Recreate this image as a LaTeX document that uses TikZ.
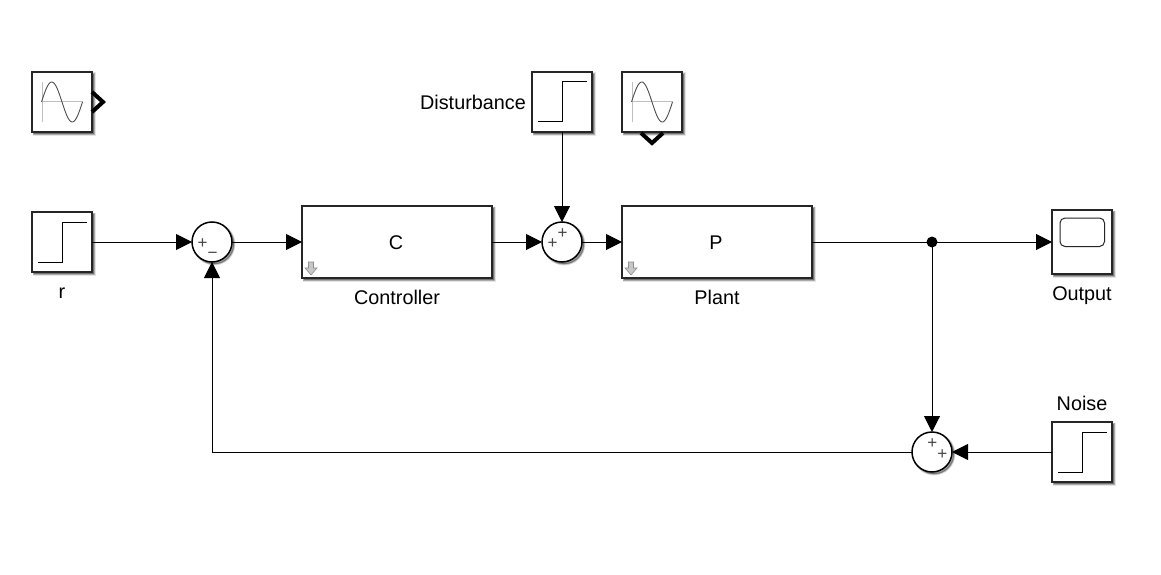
\documentclass[tikz,border=0pt]{standalone}
\usepackage{fontspec}
\setmainfont{Liberation Sans}
\usetikzlibrary{arrows.meta,shadows,calc}
\definecolor{edge}{HTML}{262626}
\tikzset{
  softshadow/.style={
    general shadow={shadow xshift=2pt,shadow yshift=-2pt,fill=black,draw=black,line width=3pt,opacity=.10},
    general shadow={shadow xshift=2pt,shadow yshift=-2pt,fill=black,draw=black,line width=1.5pt,opacity=.25}},
  blockbox/.style={draw=edge,fill=white,line width=1.6pt,inner sep=0pt,outer sep=0pt,softshadow,font=\lab},
  srcbox/.style={blockbox,minimum width=60pt,minimum height=60pt},
  subbox/.style={blockbox,minimum width=190pt,minimum height=72pt},
  scopebox/.style={blockbox,minimum width=60pt,minimum height=64pt},
  sumnode/.style={circle,draw=black,fill=white,line width=1.5pt,minimum size=40pt,inner sep=0pt,outer sep=0pt,softshadow},
  junctiondot/.style={circle,fill=black,minimum size=11pt,inner sep=0pt,outer sep=0pt},
  wire/.style={line width=1pt,draw=black},
  flow/.style={wire,-{Triangle[length=16pt,width=16pt]},shorten >=0pt},
  lbl/.style={font=\lab,text=black,inner sep=0pt},
  signmark/.style={font=\signfont,text=black!72,inner sep=0pt,anchor=base},
  stepline/.style={line width=1pt,draw=black,line join=miter},
  chevron/.style={line width=4pt,draw=black,line join=miter},
  drillicon/.style={draw=black!45,fill=black!22,line width=.6pt}
}
\newcommand{\lab}{\fontsize{19.8}{24}\selectfont}
\newcommand{\signfont}{\fontsize{17}{20}\selectfont}
\newcommand{\stepglyph}[1]{%
  \draw[stepline] ($(#1.north west)+(6,50)$) -- ++(24.5,0) -- ++(0,-40) -- ++(24.5,0);}
\newcommand{\sineglyph}[1]{%
  \begin{scope}[shift={(#1.north west)}]
    \draw[black!25,line width=1pt] (10,10) -- (10,50);
    \draw[black!25,line width=1pt] (9,30) -- (51,30);
    \draw[black!70,line width=.9pt,domain=0:360,samples=73,smooth] plot ({9.5+41*\x/360},{30-20*sin(\x)});
  \end{scope}}
\newcommand{\drillglyph}[1]{%
  \begin{scope}[shift={(#1.south west)}]
    \draw[drillicon] (6.5,-16) -- (11.5,-16) -- (11.5,-10) -- (15,-10) -- (9,-3) -- (3,-10) -- (6.5,-10) -- cycle;
  \end{scope}}
\begin{document}
\begin{tikzpicture}[x=1pt,y=-1pt]
\useasboundingbox (0,0) rectangle (1161,575);
\fill[white] (0,0) rectangle (1161,575);

% blocks
\node[srcbox] (sineA) at (62,102) {};
\node[srcbox] (ref) at (62,242) {};
\node[srcbox] (dist) at (562,102) {};
\node[srcbox] (sineB) at (652,102) {};
\node[srcbox] (noise) at (1082,452) {};
\node[scopebox] (out) at (1082,242) {};
\node[subbox] (ctrl) at (397,242) {};
\node[subbox] (plant) at (717,242) {};
\node[sumnode] (sumA) at (212,242) {};
\node[sumnode] (sumB) at (562,242) {};
\node[sumnode] (sumC) at (932,452) {};
\node[junctiondot] (tap) at (932,242) {};

% block texts
\node[lbl] (ctrlname) at (396,243) {C};
\node[lbl] (plantname) at (716,243) {P};
\node[lbl,anchor=base] (rlab) at (62,298) {r};
\node[lbl,anchor=base] (ctrllab) at (397,304) {Controller};
\node[lbl,anchor=base] (plantlab) at (717,304) {Plant};
\node[lbl,anchor=base] (outlab) at (1082,300) {Output};
\node[lbl,anchor=base] (noiselab) at (1082,410) {Noise};
\node[lbl,anchor=base east] (distlab) at (526,109.6) {Disturbance};

% glyphs
\sineglyph{sineA}
\sineglyph{sineB}
\stepglyph{ref}
\stepglyph{dist}
\stepglyph{noise}
\draw[line width=1pt,draw=edge,rounded corners=5pt] (1060,218) rectangle (1104.5,246.5);
\drillglyph{ctrl}
\drillglyph{plant}

% sum signs
\node[signmark] (s1) at (202.7,248.8) {+};
\node[signmark] (s2) at (212.7,258.5) {−};
\node[signmark] (s3) at (552.7,248.8) {+};
\node[signmark] (s4) at (562.7,238.5) {+};
\node[signmark] (s5) at (932.3,448.5) {+};
\node[signmark] (s6) at (942.3,459) {+};

% port chevrons
\draw[chevron] ($(sineA.east)+(0,-10)$) -- ($(sineA.east)+(11,0)$) -- ($(sineA.east)+(0,10)$);
\draw[chevron] ($(sineB.south)+(-11,1)$) -- ($(sineB.south)+(0,11)$) -- ($(sineB.south)+(11,1)$);

% connectors
\draw[flow] (ref.east) -- (sumA.west);
\draw[flow] (sumA.east) -- (ctrl.west);
\draw[flow] (ctrl.east) -- (sumB.west);
\draw[flow] (sumB.east) -- (plant.west);
\draw[flow] (dist.south) -- (sumB.north);
\draw[wire] (plant.east) -- (tap.center);
\draw[flow] (tap.center) -- (out.west);
\draw[flow] (tap.center) -- (sumC.north);
\draw[flow] (noise.west) -- (sumC.east);
\draw[flow] (sumC.west) -| (sumA.south);
\end{tikzpicture}
\end{document}
